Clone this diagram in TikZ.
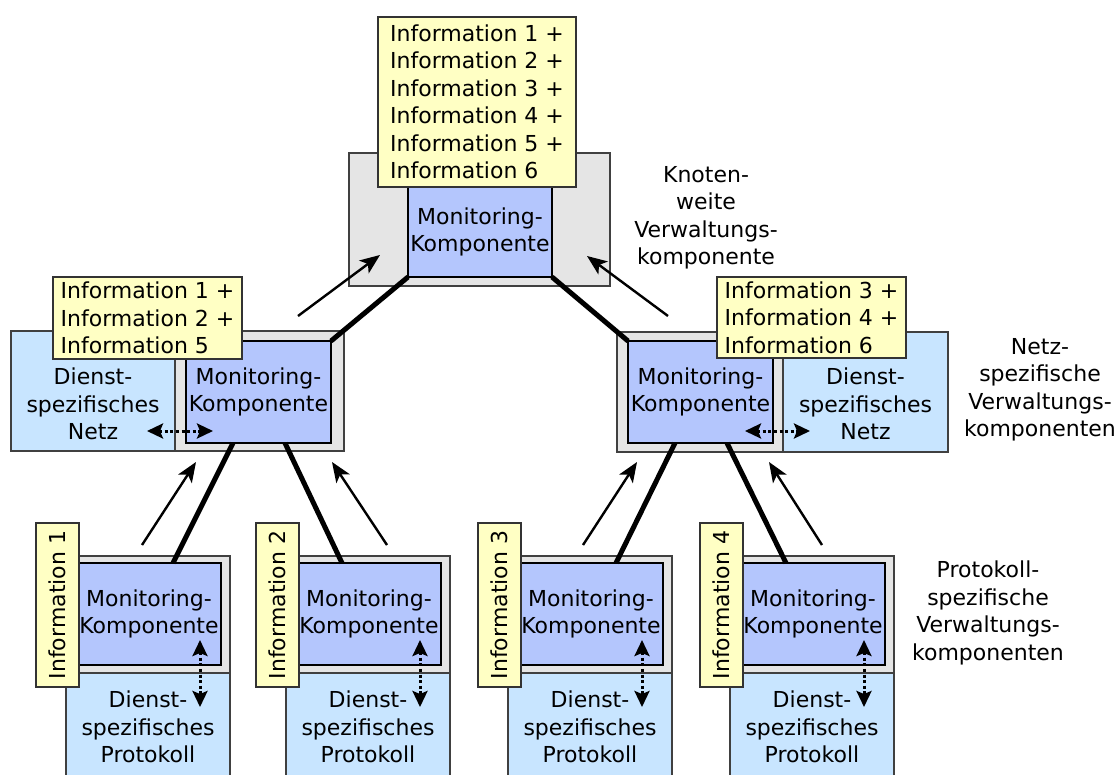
\documentclass[tikz,border=0pt]{standalone}
\usepackage{fontspec}
\setmainfont{DejaVu Sans}
\usetikzlibrary{arrows.meta}
\definecolor{framegray}{HTML}{E5E5E5}
\definecolor{monblue}{HTML}{B4C6FD}
\definecolor{svcblue}{HTML}{C8E5FF}
\definecolor{infoyellow}{HTML}{FFFFC4}
\begin{document}
\begin{tikzpicture}[x=1pt,y=-1pt,
  every node/.style={font=\fontsize{22}{27.5}\selectfont},
  frame/.style={draw=black!75, fill=framegray, line width=1.3pt, inner sep=0pt, outer sep=0pt, anchor=north west},
  mon/.style={draw=black, fill=monblue, line width=2.6pt, inner sep=0pt, outer sep=0pt, anchor=north west, align=center},
  svc/.style={draw=black!75, fill=svcblue, line width=1.3pt, inner sep=0pt, outer sep=0pt, anchor=north west},
  info/.style={draw=black!80, fill=infoyellow, line width=1.5pt, inner sep=0pt, outer sep=0pt, align=left},
  svctext/.style={align=center, inner sep=0pt},
  caption/.style={align=center, inner sep=0pt},
  flow/.style={line width=2.4pt, -{Stealth[length=20pt,width=16pt,inset=5pt]}},
  link/.style={line width=5pt},
  dotlink/.style={line width=3pt, dash pattern=on 3pt off 2.6pt,
    {Stealth[length=16pt,width=15pt,inset=3pt]}-{Stealth[length=16pt,width=15pt,inset=3pt]}},
]
\useasboundingbox (0,0) rectangle (1118,774);
\clip (0,0) rectangle (1118,774);

% node-wide management component
\node[frame, minimum width=261pt, minimum height=133pt] (gT) at (349,153) {};
\node[mon, minimum width=144pt, minimum height=90pt] (mT) at (408,187) {Monitoring-\\Komponente};
\node[info, anchor=north west, minimum width=198pt, minimum height=170pt] (yT) at (378,17)
  {Information 1 +\\Information 2 +\\Information 3 +\\Information 4 +\\Information 5 +\\Information 6};
\node[caption] (kT) at (706,218) {Knoten-\\weite\\Verwaltungs-\\komponente};

% left network-specific component
\node[svc, minimum width=164pt, minimum height=120pt] (dL) at (11,331) {};
\node[svctext] (dLt) at ([yshift=-73pt]dL.north) {Dienst-\\spezifisches\\Netz};
\node[frame, minimum width=169pt, minimum height=120pt] (gL) at (175,331) {};
\node[mon, minimum width=145pt, minimum height=102pt] (mL) at (186,341) {Monitoring-\\Komponente};
\node[info, anchor=north west, minimum width=189pt, minimum height=82pt] (yL) at (53,277)
  {Information 1 +\\Information 2 +\\Information 5};

% right network-specific component
\node[frame, minimum width=166pt, minimum height=120pt] (gR) at (617,332) {};
\node[mon, minimum width=145pt, minimum height=102pt] (mR) at (628,341) {Monitoring-\\Komponente};
\node[svc, minimum width=165pt, minimum height=120pt] (dR) at (783,332) {};
\node[svctext] (dRt) at ([yshift=-72pt]dR.north) {Dienst-\\spezifisches\\Netz};
\node[info, anchor=north west, minimum width=189pt, minimum height=81pt] (yR) at (717,277)
  {Information 3 +\\Information 4 +\\Information 6};
\node[caption] (kN) at (1040,390) {Netz-\\spezifische\\Verwaltungs-\\komponenten};

% protocol-specific components
\foreach \i/\ox in {1/0,2/220,3/442,4/664}{
  \node[frame, minimum width=164pt, minimum height=117pt] (g\i) at (66+\ox,556) {};
  \node[svc, minimum width=164pt, minimum height=140pt] (d\i) at (66+\ox,673) {};
  \node[svctext] (d\i t) at ([yshift=-54pt]d\i.north) {Dienst-\\spezifisches\\Protokoll};
  \node[mon, minimum width=144pt, minimum height=102pt] (m\i) at (77+\ox,563) {Monitoring-\\Komponente};
  \node[info, minimum width=164pt, minimum height=43pt, rotate=90, align=center] (y\i) at (57.5+\ox,605) {Information \i};
  \draw[dotlink] ([shift={(-21pt,25pt)}]m\i.south east) -- ([shift={(-30pt,-34pt)}]d\i.north east);
}
\node[caption] (kP) at (988,613) {Protokoll-\\spezifische\\Verwaltungs-\\komponenten};

% links between monitoring components
\draw[link] (mT.south west) -- (mL.north east);
\draw[link] (mT.south east) -- (mR.north west);
\draw[link] ([xshift=47pt]mL.south west) -- ([xshift=-48pt]m1.north east);
\draw[link] ([xshift=-46pt]mL.south east) -- ([xshift=45pt]m2.north west);
\draw[link] ([xshift=47pt]mR.south west) -- ([xshift=-47pt]m3.north east);
\draw[link] ([xshift=-46pt]mR.south east) -- ([xshift=45pt]m4.north west);

% information flow upwards
\coordinate (f1s) at (298,316); \coordinate (f1e) at (380,255);
\coordinate (f2s) at (668,316); \coordinate (f2e) at (587,256);
\coordinate (f3s) at (142,545); \coordinate (f3e) at (196,462);
\coordinate (f4s) at (387,545); \coordinate (f4e) at (332,462);
\coordinate (f5s) at (583,545); \coordinate (f5e) at (637,462);
\coordinate (f6s) at (822,545); \coordinate (f6e) at (769,462);
\foreach \k in {1,...,6}{\draw[flow] (f\k s) -- (f\k e);}

% exchange with the service-specific networks
\draw[dotlink] ([shift={(-28pt,20pt)}]dL.south east) -- ([shift={(27pt,12pt)}]mL.south west);
\draw[dotlink] ([shift={(-28pt,12pt)}]mR.south east) -- ([shift={(27pt,21pt)}]dR.south west);
\end{tikzpicture}
\end{document}
